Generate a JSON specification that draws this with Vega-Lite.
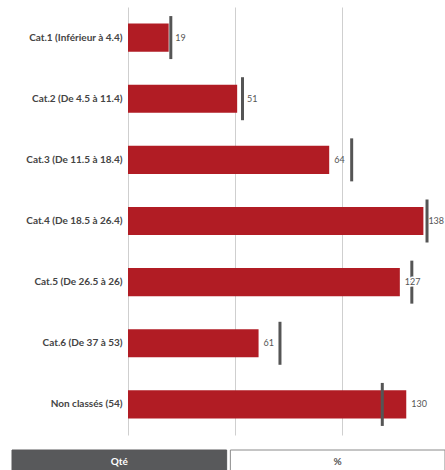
{
  "$schema": "https://vega.github.io/schema/vega-lite/v6.json",
  "autosize": {"type": "none"},
  "padding": {"left": 128, "top": 7, "right": 0, "bottom": 35},
  "width": 317,
  "height": 428,
  "config": {"view": {"stroke": null}, "font": "Lato"},
  "layer": [
    {
      "data": {"values": [
        {"cat": "Cat.1 (Inférieur à 4.4)", "qte": 19, "label": "19", "repere": 20.0},
        {"cat": "Cat.2 (De 4.5 à 11.4)", "qte": 51, "label": "51", "repere": 53.5},
        {"cat": "Cat.3 (De 11.5 à 18.4)", "qte": 94, "label": "64", "repere": 104.5},
        {"cat": "Cat.4 (De 18.5 à 26.4)", "qte": 138, "label": "138", "repere": 139.7},
        {"cat": "Cat.5 (De 26.5 à 26)", "qte": 127, "label": "127", "repere": 132.6},
        {"cat": "Cat.6 (De 37 à 53)", "qte": 61, "label": "61", "repere": 71},
        {"cat": "Non classés (54)", "qte": 130, "label": "130", "repere": 118.8}
      ]},
      "encoding": {
        "y": {"field": "cat", "type": "nominal", "sort": null,
          "scale": {"paddingInner": 0.54, "paddingOuter": 0.27},
          "axis": {"title": null, "ticks": false, "domain": false, "labelPadding": 6,
            "labelFontSize": 10, "labelColor": "#444", "labelFontWeight": "bold", "labelLimit": 200}}
      },
      "layer": [
        {
          "mark": {"type": "bar", "color": "#b11c24"},
          "encoding": {
            "x": {"field": "qte", "type": "quantitative", "scale": {"domain": [0, 148.1], "nice": false},
              "axis": {"title": null, "values": [0, 50, 100], "labels": false, "ticks": false, "domain": false,
                "grid": true, "gridColor": "#cfcfcf", "gridWidth": 1}}
          }
        },
        {
          "mark": {"type": "tick", "color": "#555", "size": 43, "thickness": 3, "opacity": 1},
          "encoding": {"x": {"field": "repere", "type": "quantitative"}}
        },
        {
          "transform": [{"filter": "datum.label === '127'"}],
          "mark": {"type": "text", "align": "left", "baseline": "middle", "dx": 5, "fontSize": 9,
            "stroke": "white", "strokeWidth": 3, "fill": "white"},
          "encoding": {"x": {"field": "qte", "type": "quantitative"}, "text": {"field": "label"}}
        },
        {
          "transform": [{"filter": "datum.label !== '19' && datum.label !== '51'"}],
          "mark": {"type": "text", "align": "left", "baseline": "middle", "dx": 5, "fontSize": 9, "color": "#555"},
          "encoding": {"x": {"field": "qte", "type": "quantitative"}, "text": {"field": "label"}}
        },
        {
          "transform": [{"filter": "datum.label === '19' || datum.label === '51'"}],
          "mark": {"type": "text", "align": "left", "baseline": "middle", "dx": 4.5, "fontSize": 9, "color": "#555"},
          "encoding": {"x": {"field": "repere", "type": "quantitative"}, "text": {"field": "label"}}
        }
      ]
    },
    {
      "data": {"values": [
        {"btn": "Qté", "grp": "mode"},
        {"btn": "%", "grp": "mode"}
      ]},
      "encoding": {
        "x": {"field": "btn", "type": "nominal", "sort": null,
          "scale": {"type": "band", "range": [-116, 317], "paddingInner": 0.017, "paddingOuter": 0}, "axis": null},
        "y": {"field": "grp", "type": "nominal",
          "scale": {"type": "band", "range": [443, 465], "paddingInner": 0, "paddingOuter": 0}, "axis": null}
      },
      "layer": [
        {
          "mark": {"type": "rect", "strokeWidth": 1},
          "encoding": {
            "fill": {"condition": {"test": "datum.btn === 'Qté'", "value": "#58595b"}, "value": "#ffffff"},
            "stroke": {"condition": {"test": "datum.btn === 'Qté'", "value": "#58595b"}, "value": "#8a8a8a"}
          }
        },
        {
          "mark": {"type": "text", "baseline": "middle", "fontSize": 10, "fontWeight": "bold", "dy": 1},
          "encoding": {
            "text": {"field": "btn"},
            "color": {"condition": {"test": "datum.btn === 'Qté'", "value": "#ffffff"}, "value": "#555555"}
          }
        }
      ]
    }
  ],
  "resolve": {"scale": {"x": "independent", "y": "independent"}}
}
